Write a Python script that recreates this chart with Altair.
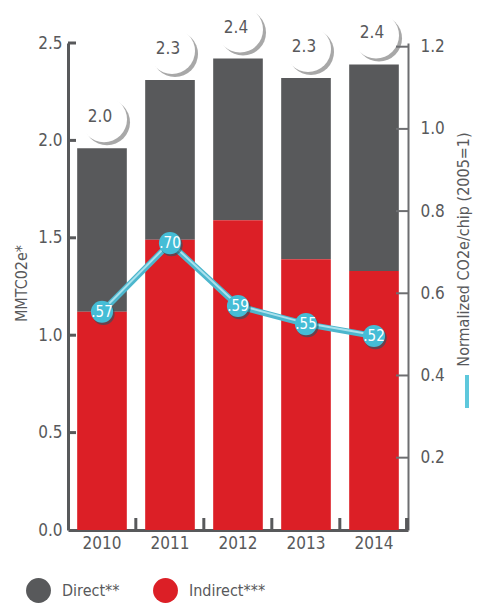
import altair as alt
import pandas as pd

# ---- data ----
years = ["2010", "2011", "2012", "2013", "2014"]
total = [1.96, 2.31, 2.42, 2.32, 2.39]          # Direct + Indirect (MMTCO2e)
indirect = [1.12, 1.49, 1.59, 1.39, 1.33]       # Indirect part
total_labels = ["2.0", "2.3", "2.4", "2.3", "2.4"]
intensity = [0.555, 0.722, 0.569, 0.525, 0.496]  # normalized CO2e/chip (as plotted)
intensity_labels = [".57", ".70", ".59", ".55", ".52"]
components = ["Direct**", "Indirect***"]
left_ticks = [0.5, 1.0, 1.5, 2.0, 2.5]
right_ticks = [0.2, 0.4, 0.6, 0.8, 1.0, 1.2]

FONT = "Liberation Sans Narrow, DejaVu Sans Condensed, Roboto, sans-serif"
GRAY = "#58595b"
AXGRAY = "#6d6e71"
RED = "#dc1f26"
BLUE = "#45bdd6"

W, H = 340, 487

bars_df = pd.DataFrame({
    "year": years * 2,
    "component": [components[0]] * 5 + [components[1]] * 5,
    "start": indirect + [0.0] * 5,
    "end": total + indirect,
})
tot_df = pd.DataFrame({"year": years, "total": total, "label": total_labels})
line_df = pd.DataFrame({"year": years, "val": intensity, "label": intensity_labels})
lt_df = pd.DataFrame({"v": left_ticks})
rt_df = pd.DataFrame({"v": right_ticks})
bt_df = pd.DataFrame({"year": years[:-1]})

xscale = alt.Scale(domain=years, paddingInner=0.27, paddingOuter=0.135)
x_axis = alt.Axis(title=None, labelAngle=0, domainWidth=3, domainColor=GRAY,
                  ticks=False, labelFont=FONT, labelFontSize=17, labelColor=GRAY,
                  labelPadding=5, grid=False)
X = alt.X("year:N", scale=xscale, axis=x_axis)

yL = alt.Scale(domain=[0, 2.5], nice=False, zero=True)
yR = alt.Scale(domain=[0.024, 1.209], nice=False, zero=False)

left_axis = alt.Axis(
    title="MMTC02e*", values=[0.0] + left_ticks, format=".1f", grid=False,
    ticks=False, domainWidth=3, domainColor=GRAY, labelFont=FONT,
    labelFontSize=17, labelColor=GRAY, labelPadding=6,
    titleFont=FONT, titleFontSize=16, titleFontWeight="normal", titleColor=GRAY,
    titlePadding=8, titleY=240,
)
right_axis = alt.Axis(
    orient="right", title="Normalized CO2e/chip (2005=1)", values=right_ticks,
    format=".1f", grid=False, ticks=False, domainWidth=2, domainColor=AXGRAY,
    labelFont=FONT, labelFontSize=17, labelColor=GRAY, labelPadding=12,
    titleFont=FONT, titleFontSize=16, titleFontWeight="normal", titleColor=GRAY,
    titleAngle=270, titlePadding=27, titleY=206,
)


def YL(field):
    return alt.Y(field, scale=yL, axis=left_axis)


def YR(field):
    return alt.Y(field, scale=yR, axis=right_axis)


bars = alt.Chart(bars_df).mark_bar().encode(
    x=X,
    y=YL("end:Q"),
    y2="start:Q",
    color=alt.Color(
        "component:N",
        scale=alt.Scale(domain=components, range=[GRAY, RED]),
        legend=alt.Legend(
            title=None, orient="none", legendX=-42, legendY=535,
            direction="horizontal", symbolType="circle", symbolSize=620,
            symbolStrokeWidth=0, symbolOpacity=1, labelFont=FONT,
            labelFontSize=16, labelColor=GRAY, labelOffset=11,
            columnPadding=33, padding=0,
        ),
    ),
)

bubble_shadow = alt.Chart(tot_df).mark_circle(
    size=2120, color="#a8a8a8", opacity=1, xOffset=5, yOffset=-26
).encode(x=X, y=YL("total:Q"))
bubble = alt.Chart(tot_df).mark_circle(
    size=2120, color="white", opacity=1, xOffset=2, yOffset=-29
).encode(x=X, y=YL("total:Q"))
bubble_text = alt.Chart(tot_df).mark_text(
    font=FONT, fontSize=17, color=GRAY, xOffset=-2, yOffset=-31
).encode(x=X, y=YL("total:Q"), text="label:N")

left_ticks_rule = alt.Chart(lt_df).mark_rule(color=GRAY, strokeWidth=3).encode(
    y=YL("v:Q"), x=alt.value(0), x2=alt.value(8)
)
bottom_ticks = alt.Chart(bt_df).mark_rule(color=GRAY, strokeWidth=3, xOffset=9).encode(
    x=alt.X("year:N", scale=xscale, axis=x_axis, bandPosition=1),
    y=alt.value(H - 12), y2=alt.value(H),
)
end_tick = alt.Chart(bt_df).mark_rule(color=GRAY, strokeWidth=3).encode(
    x=alt.value(W - 1), y=alt.value(H - 12), y2=alt.value(H)
)

left_layer = alt.layer(bars, bubble_shadow, bubble, bubble_text,
                       left_ticks_rule, bottom_ticks, end_tick)

line_base = alt.Chart(line_df).encode(x=X)
line_thick = line_base.mark_line(color="#4cb6cd", strokeWidth=6).encode(y=YR("val:Q"))
line_hi = line_base.mark_line(color="#a9e1ed", strokeWidth=2, yOffset=-1).encode(y=YR("val:Q"))
pt_shadow = line_base.mark_circle(size=500, color="#1d5866", opacity=0.6,
                                  xOffset=1.5, yOffset=2).encode(y=YR("val:Q"))
pts = line_base.mark_circle(size=490, color=BLUE, opacity=1).encode(y=YR("val:Q"))
pt_text = line_base.mark_text(font=FONT, fontSize=15, color="white").encode(
    y=YR("val:Q"), text="label:N")
right_ticks_rule = alt.Chart(rt_df).mark_rule(color=AXGRAY, strokeWidth=2).encode(
    y=YR("v:Q"), x=alt.value(W - 12), x2=alt.value(W)
)
swatch = alt.Chart(rt_df.head(1)).mark_rule(color="#5ec8dc", strokeWidth=4).encode(
    x=alt.value(W + 59), y=alt.value(332), y2=alt.value(365)
)

right_layer = alt.layer(line_thick, line_hi, pt_shadow, pts, pt_text,
                        right_ticks_rule, swatch)

chart = alt.layer(left_layer, right_layer).resolve_scale(y="independent").properties(
    width=W, height=H,
    autosize=alt.AutoSizeParams(type="none"),
    padding={"left": 68, "top": 43, "right": 71, "bottom": 73},
    background="white",
).configure_view(stroke=None)

chart.save("out.html", embed_options={"renderer": "svg", "actions": False})
